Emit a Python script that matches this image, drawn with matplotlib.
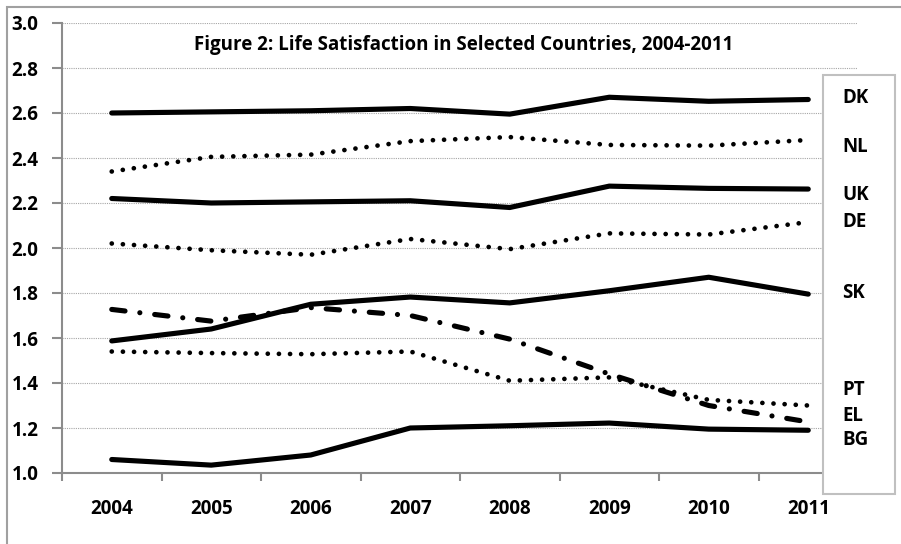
import matplotlib

matplotlib.use("Agg")
import matplotlib.pyplot as plt  # noqa: E402
from matplotlib.patches import Rectangle  # noqa: E402
import numpy as np  # noqa: E402

plt.rcParams["font.family"] = ["Open Sans", "DejaVu Sans"]
plt.rcParams["font.weight"] = "bold"

# ---------------------------------------------------------------- data
years = ["2004", "2005", "2006", "2007", "2008", "2009", "2010", "2011"]
dk = [2.60, 2.605, 2.61, 2.62, 2.595, 2.67, 2.652, 2.66]
nl = [2.34, 2.405, 2.415, 2.475, 2.493, 2.458, 2.455, 2.48]
uk = [2.22, 2.20, 2.205, 2.21, 2.18, 2.275, 2.265, 2.262]
de = [2.02, 1.99, 1.97, 2.04, 1.995, 2.065, 2.06, 2.115]
sk = [1.587, 1.64, 1.75, 1.782, 1.756, 1.81, 1.87, 1.795]
el = [1.727, 1.675, 1.735, 1.70, 1.595, 1.44, 1.30, 1.227]
pt = [1.54, 1.533, 1.528, 1.54, 1.41, 1.425, 1.325, 1.30]
bg = [1.06, 1.035, 1.08, 1.20, 1.21, 1.222, 1.195, 1.19]

yticks = [1.0, 1.2, 1.4, 1.6, 1.8, 2.0, 2.2, 2.4, 2.6, 2.8, 3.0]
title = "Figure 2: Life Satisfaction in Selected Countries, 2004-2011"

# label column in the key box: (text, figure-y in px from top)
key = [("DK", 98), ("NL", 147), ("UK", 195), ("DE", 222),
       ("SK", 293), ("PT", 390), ("EL", 416), ("BG", 440)]

W, H = 901, 544
SOLID = dict(color="black", lw=3.7, solid_capstyle="round", solid_joinstyle="round")
DOTTED = dict(color="black", lw=3.4, ls=(0, (0.01, 2.35)), dash_capstyle="round")
DASHDOT = dict(color="black", lw=3.7, ls=(0, (2.6, 2.9, 0.01, 2.9)), dash_capstyle="round")
GRID = "#a6a6a6"
EDGE = "#8c8c8c"
FS = 13.5


def fx(px):
    return px / W


def fy(px):
    return 1 - px / H


fig = plt.figure(figsize=(W / 100, H / 100), dpi=100)
ax = fig.add_axes([fx(62), fy(473), fx(858) - fx(62), fy(23) - fy(473)])

x = np.arange(len(years))
for yv in yticks[1:]:
    ax.axhline(yv, color=GRID, lw=0.8, ls=(0, (1, 1)), zorder=1)

ax.plot(x, dk, zorder=2, **SOLID)
ax.plot(x, nl, zorder=2, **DOTTED)
ax.plot(x, uk, zorder=2, **SOLID)
ax.plot(x, de, zorder=2, **DOTTED)
ax.plot(x, sk, zorder=2, **SOLID)
ax.plot(x, el, zorder=2, **DASHDOT)
ax.plot(x, pt, zorder=2, **DOTTED)
ax.plot(x, bg, zorder=2, **SOLID)

ax.set_xlim(-0.5, len(years) - 0.5)
ax.set_ylim(1.0, 3.0)
ax.set_yticks(yticks)
ax.set_yticklabels([f"{v:.1f}" for v in yticks], fontsize=FS, fontweight="bold")
ax.set_xticks(x)
ax.set_xticklabels(years, fontsize=FS, fontweight="bold")
ax.tick_params(axis="x", length=0, pad=19)
ax.set_xticks(np.arange(-0.5, len(years) - 1), minor=True)
ax.tick_params(axis="x", which="minor", length=6, width=1.5, color=EDGE, direction="out")
ax.tick_params(axis="y", length=7, width=1.5, color=EDGE, pad=10)
for s in ("top", "right"):
    ax.spines[s].set_visible(False)
for s in ("left", "bottom"):
    ax.spines[s].set_color(EDGE)
    ax.spines[s].set_linewidth(1.5)
ax.xaxis.set_zorder(4)

ax.text(0.505, 0.951, title, transform=ax.transAxes, ha="center", va="center",
        fontsize=FS, fontweight="bold")

# key box on the right, sits over the grid but under the year labels
ax.add_patch(Rectangle((fx(823), fy(494)), fx(895) - fx(823), fy(75) - fy(494),
                       transform=fig.transFigure, facecolor="white", edgecolor="#c0c0c0",
                       lw=1.5, clip_on=False, zorder=3))
for lab, ypx in key:
    fig.text(fx(842), fy(ypx), lab, ha="left", va="center", fontsize=FS, fontweight="bold",
             zorder=5)

# chart-area frame (only top and left edges fall inside the picture)
fig.add_artist(Rectangle((fx(7), -0.1), 1.2, fy(7) + 0.1, transform=fig.transFigure,
                         facecolor="none", edgecolor="#a0a0a0", lw=1.5, zorder=0))

fig.savefig("out.png", dpi=100)
